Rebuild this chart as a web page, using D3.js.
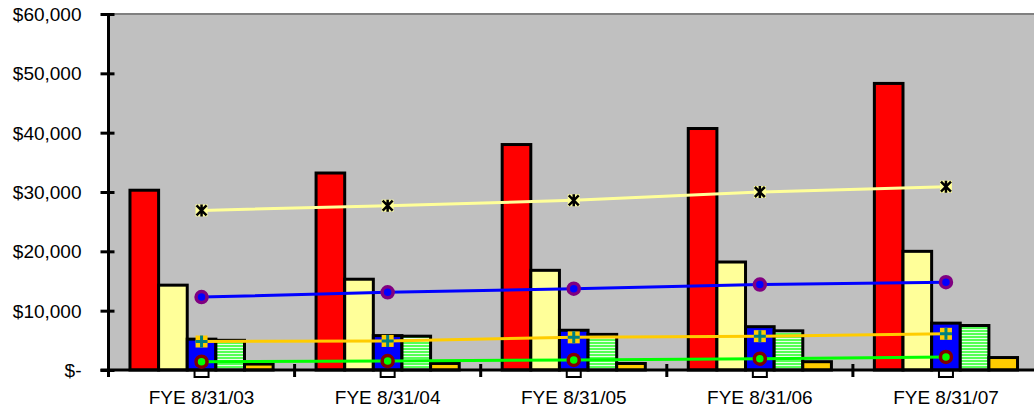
<!DOCTYPE html>
<html><head><meta charset="utf-8">
<script src="https://cdn.jsdelivr.net/npm/d3@7"></script>
<style>html,body{margin:0;padding:0;background:#fff;}svg{display:block;}</style>
</head><body>
<svg id="chart" width="1034" height="414"></svg>
<script>
const categories = ["FYE 8/31/03","FYE 8/31/04","FYE 8/31/05","FYE 8/31/06","FYE 8/31/07"];
const redBars    = [30300, 33200, 38000, 40700, 48300];
const yellowBars = [14300, 15300, 16800, 18200, 20000];
const blueBars   = [5200, 5800, 6700, 7300, 7900];
const greenBars  = [5000, 5700, 6000, 6600, 7500];
const orangeBars = [1000, 1100, 1100, 1400, 2100];
const yellowLine = [26900, 27700, 28600, 30000, 30900];
const blueLine   = [12300, 13100, 13700, 14400, 14800];
const orangeLine = [4800, 4900, 5500, 5700, 6100];
const greenLine  = [1400, 1500, 1700, 1900, 2200];
const zeroLine   = [0, 0, 0, 0, 0];
const yTicks = [0, 10000, 20000, 30000, 40000, 50000, 60000];

(function(){
const svg = d3.select("#chart");
const pLeft = 108.5, pRight = 1039, pTop = 14, pBottom = 370;
const y = d3.scaleLinear().domain([0, 60000]).range([pBottom, pTop]);
const x = d3.scaleBand().domain(categories).range([pLeft, pRight]);
const step = x.bandwidth();
const bw = step / 6.5;
const barNames = ["r","yb","b","g","o"];
const inner = d3.scaleBand().domain(barNames).range([0.75*bw, 0.75*bw + 5*bw]);

const defs = svg.append("defs");
const pat = defs.append("pattern").attr("id","stripe").attr("patternUnits","userSpaceOnUse")
  .attr("width", 6).attr("height", 3);
pat.append("rect").attr("width",6).attr("height",3).attr("fill","#55FF55");
pat.append("rect").attr("y",2).attr("width",6).attr("height",1).attr("fill","#E8FFE8");

// plot area
svg.append("rect").attr("x", pLeft).attr("y", pTop).attr("width", pRight-pLeft).attr("height", pBottom-pTop).attr("fill", "#C0C0C0");
svg.append("line").attr("x1", pLeft).attr("x2", pRight).attr("y1", pTop).attr("y2", pTop)
  .attr("stroke", "#808080").attr("stroke-width", 2);

// zero series markers (behind bars)
svg.append("g").selectAll("rect").data(zeroLine).join("rect")
  .attr("x", (d,i) => x(categories[i]) + step/2 - 7)
  .attr("y", d => y(d) - 6)
  .attr("width", 14).attr("height", 13)
  .attr("fill", "#fff").attr("stroke", "#000").attr("stroke-width", 2);

const barSets = [
  {key:"r", vals: redBars, fill:"#FF0000"},
  {key:"yb", vals: yellowBars, fill:"#FFFF99"},
  {key:"b", vals: blueBars, fill:"#0000FF"},
  {key:"g", vals: greenBars, fill:"url(#stripe)"},
  {key:"o", vals: orangeBars, fill:"#FFCC00"}
];
barSets.forEach(s => {
  svg.append("g").selectAll("rect").data(s.vals).join("rect")
    .attr("x", (d,i) => x(categories[i]) + inner(s.key))
    .attr("y", d => y(d))
    .attr("width", inner.bandwidth())
    .attr("height", d => y(0) - y(d))
    .attr("fill", s.fill).attr("stroke", "#000").attr("stroke-width", 3);
});

// axes
const yAxis = d3.axisLeft(y).tickValues(yTicks).tickSize(0)
  .tickFormat(d => d === 0 ? "$-" : "$" + d3.format(",")(d));
const ya = svg.append("g").attr("transform", `translate(${pLeft},0)`).call(yAxis);
ya.select(".domain").remove();
ya.selectAll("text").attr("x", -27).attr("dy", "0.35em")
  .attr("font-family", "Liberation Sans, Arial, sans-serif").attr("font-size", 19).attr("fill", "#000");
ya.selectAll(".tick").append("line").attr("x1", -8).attr("x2", 6).attr("stroke", "#000").attr("stroke-width", 3);

const xAxis = d3.axisBottom(x).tickSize(0);
const xa = svg.append("g").attr("transform", `translate(0,${pBottom})`).call(xAxis);
xa.select(".domain").remove();
xa.selectAll("text").attr("y", 27).attr("dy", "0.35em")
  .attr("font-family", "Liberation Sans, Arial, sans-serif").attr("font-size", 19).attr("fill", "#000");
const bounds = categories.map(c => x(c)).concat([pRight]);
svg.append("g").selectAll("line").data(bounds).join("line")
  .attr("x1", d => d).attr("x2", d => d).attr("y1", pBottom - 6).attr("y2", pBottom + 7)
  .attr("stroke", "#000").attr("stroke-width", 3);
svg.append("line").attr("x1", pLeft - 8).attr("x2", pRight).attr("y1", pBottom).attr("y2", pBottom)
  .attr("stroke", "#000").attr("stroke-width", 3);
svg.append("line").attr("x1", pLeft).attr("x2", pLeft).attr("y1", pTop - 1).attr("y2", pBottom + 7)
  .attr("stroke", "#000").attr("stroke-width", 3);

// lines
const cx = i => x(categories[i]) + step/2;
const lineGen = d3.line().x((d,i) => cx(i)).y(d => y(d));
function drawLine(vals, color) {
  svg.append("path").datum(vals).attr("d", lineGen).attr("fill","none")
    .attr("stroke", color).attr("stroke-width", 3);
}
drawLine(yellowLine, "#FFFF99");
drawLine(blueLine, "#0000FF");
drawLine(orangeLine, "#FFCC00");
drawLine(greenLine, "#00FF00");

// markers
const ym = svg.append("g").selectAll("g").data(yellowLine).join("g")
  .attr("transform", (d,i) => `translate(${cx(i)},${y(d)})`);
ym.append("rect").attr("x",-6).attr("y",-6).attr("width",12).attr("height",12).attr("fill","#FFFF99");
ym.append("path").attr("d","M-5,-5L5,5M5,-5L-5,5M0,-6L0,6").attr("stroke","#000").attr("stroke-width",2.5);

svg.append("g").selectAll("circle").data(blueLine).join("circle")
  .attr("cx", (d,i) => cx(i)).attr("cy", d => y(d)).attr("r", 5.5)
  .attr("fill", "#0000FF").attr("stroke", "#800080").attr("stroke-width", 3.5);

const om = svg.append("g").selectAll("g").data(orangeLine).join("g")
  .attr("transform", (d,i) => `translate(${cx(i)},${y(d)})`);
om.append("rect").attr("x",-6).attr("y",-6).attr("width",12).attr("height",12).attr("fill","#FFCC00");
om.append("path").attr("d","M-6,0L6,0M0,-6L0,6").attr("stroke","#008080").attr("stroke-width",3);

svg.append("g").selectAll("circle").data(greenLine).join("circle")
  .attr("cx", (d,i) => cx(i)).attr("cy", d => y(d)).attr("r", 5.5)
  .attr("fill", "#00FF00").attr("stroke", "#800000").attr("stroke-width", 3.5);
})();
</script>
</body></html>
